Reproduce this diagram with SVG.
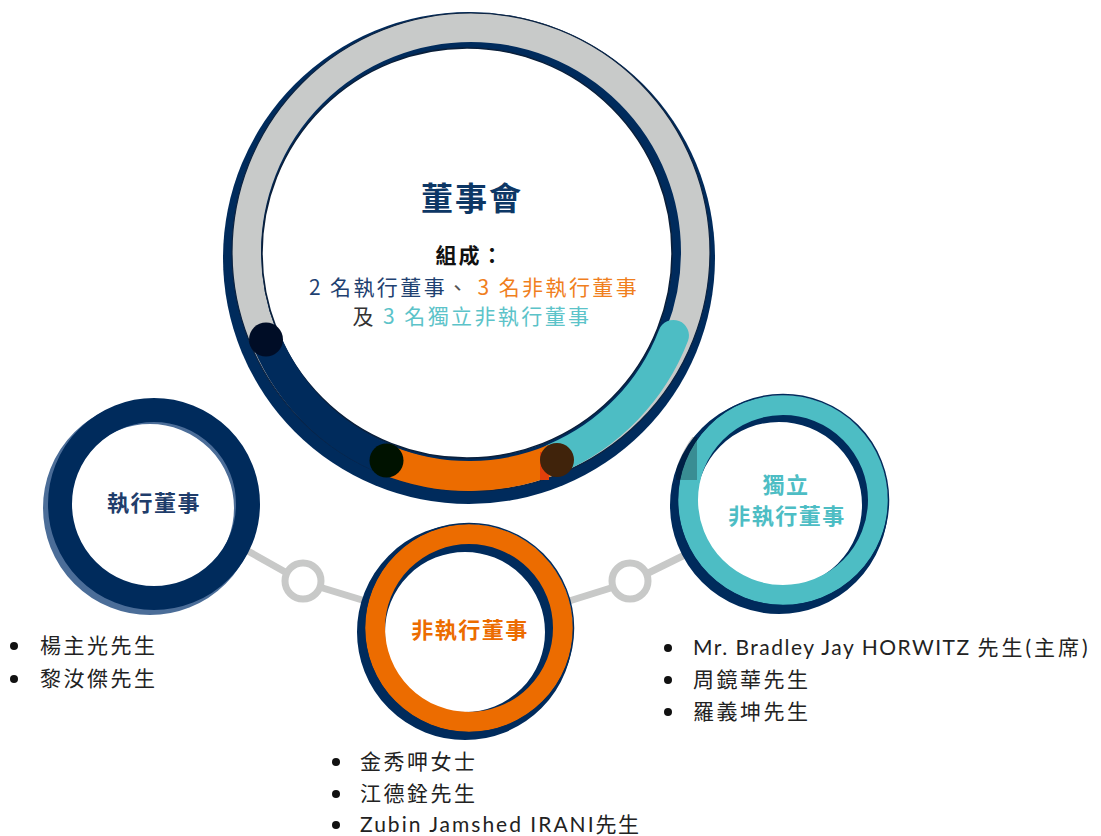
<svg xmlns="http://www.w3.org/2000/svg" width="1101" height="836" viewBox="0 0 1101 836">
<style>
.cjk{font-family:'Noto Sans CJK TC','Noto Sans',sans-serif}
.list{font-family:Lato,'Noto Sans CJK TC',sans-serif;font-size:21px;fill:#222}
.conn{stroke:#c8c9c8;stroke-width:7;fill:none}
.navy{fill:#002b5c}
</style>
<defs>
<clipPath id="indClip"><circle cx="781" cy="502" r="110"/></clipPath>
</defs>
<rect width="1101" height="836" fill="#ffffff"/>
<g id="connectors">
<line class="conn" x1="230" y1="541" x2="303" y2="582"/>
<line class="conn" x1="303" y1="582" x2="385" y2="607"/>
<line class="conn" x1="550" y1="607" x2="630" y2="582"/>
<line class="conn" x1="630" y1="582" x2="705" y2="545"/>
<circle cx="303" cy="581" r="18" stroke="#c8c9c8" stroke-width="7" fill="#ffffff"/>
<circle cx="630" cy="581" r="18" stroke="#c8c9c8" stroke-width="7" fill="#ffffff"/>
</g>
<g id="board">
<circle cx="469" cy="258" r="246" class="navy"/>
<circle cx="471" cy="252" r="224.5" fill="none" stroke="#c8cac9" stroke-width="29"/>
<circle cx="471" cy="252" r="239" fill="none" stroke="#0b2240" stroke-width="1.2"/>
<circle cx="467" cy="253" r="205" fill="#ffffff" stroke="#0a1f3a" stroke-width="1.5"/>
<path d="M 554.57 458.59 A 219 219 0 0 0 673.45 335.48" fill="none" stroke="#4dbdc4" stroke-width="31" stroke-linecap="round"/>
<path d="M 386.96 460.05 A 219 219 0 0 0 554.57 458.59" fill="none" stroke="#ec6c00" stroke-width="30"/>
<path d="M 265.95 339.04 A 219 219 0 0 0 386.96 460.05" fill="none" stroke="#002b5c" stroke-width="30"/>
<rect x="540" y="452" width="9" height="28" fill="#e2400b"/>
<circle cx="266" cy="339.5" r="17" fill="#000d26"/>
<circle cx="386.5" cy="460.5" r="17" fill="#001200"/>
<circle cx="557" cy="460" r="17" fill="#40230b"/>
<text x="472" y="210" text-anchor="middle" class="cjk" font-size="32" font-weight="bold" fill="#0d3765" letter-spacing="2">董事會</text>
<text x="470" y="262.5" text-anchor="middle" class="cjk" font-size="21" font-weight="bold" fill="#111" letter-spacing="2">組成：</text>
<text x="474" y="294.5" text-anchor="middle" class="cjk" font-size="21" letter-spacing="2.4"><tspan fill="#1f4171">2 名執行董事</tspan><tspan fill="#555">、 </tspan><tspan fill="#f07f1e">3 名非執行董事</tspan></text>
<text x="472" y="323.5" text-anchor="middle" class="cjk" font-size="21" letter-spacing="2.4"><tspan fill="#333">及 </tspan><tspan fill="#5cc3c9">3 名獨立非執行董事</tspan></text>
</g>
<g id="exec">
<circle cx="150" cy="508" r="95.5" fill="#ffffff" stroke="#4b6d98" stroke-width="23"/>
<circle cx="154" cy="504" r="94" fill="none" stroke="#002b5c" stroke-width="24"/>
<text x="154" y="511" text-anchor="middle" class="cjk" font-size="22" font-weight="bold" fill="#1f3d6b" letter-spacing="1.5">執行董事</text>
</g>
<g id="nonexec">
<circle cx="465" cy="632" r="94" fill="#ffffff" stroke="#002b5c" stroke-width="28"/>
<circle cx="469" cy="628" r="94" fill="none" stroke="#ec6c00" stroke-width="20"/>
<circle cx="469" cy="628" r="104.5" fill="none" stroke="#002b5c" stroke-width="1.5"/>
<text x="470" y="638" text-anchor="middle" class="cjk" font-size="22" font-weight="bold" fill="#ec6c00" letter-spacing="1.5">非執行董事</text>
</g>
<g id="independent">
<circle cx="779" cy="505" r="96" fill="#ffffff" stroke="#002b5c" stroke-width="26"/>
<circle cx="783" cy="500" r="95" fill="none" stroke="#4dbdc4" stroke-width="20"/>
<circle cx="783" cy="500" r="105.5" fill="none" stroke="#002b5c" stroke-width="1.5"/>
<rect x="676" y="437" width="21" height="43" fill="#000" fill-opacity="0.25" clip-path="url(#indClip)"/>
<text x="786" y="493" text-anchor="middle" class="cjk" font-size="22" font-weight="bold" fill="#4dbdc4" letter-spacing="1.5">獨立</text>
<text x="787" y="524" text-anchor="middle" class="cjk" font-size="22" font-weight="bold" fill="#4dbdc4" letter-spacing="1.5">非執行董事</text>
</g>
<g id="exec-list">
<circle cx="14" cy="646" r="4" fill="#111"/>
<circle cx="14" cy="679" r="4" fill="#111"/>
<text x="40" y="653" class="list" style="letter-spacing:2.5px">楊主光先生</text>
<text x="40" y="686" class="list" style="letter-spacing:2.5px">黎汝傑先生</text>
</g>
<g id="nonexec-list">
<circle cx="336" cy="762" r="4" fill="#111"/>
<circle cx="336" cy="794" r="4" fill="#111"/>
<circle cx="336" cy="825" r="4" fill="#111"/>
<text x="360" y="769" class="list" style="letter-spacing:2.5px">金秀呷女士</text>
<text x="360" y="801" class="list" style="letter-spacing:2.5px">江德銓先生</text>
<text x="360" y="832" class="list" style="letter-spacing:2px">Zubin Jamshed IRANI<tspan style="letter-spacing:1.5px">先生</tspan></text>
</g>
<g id="independent-list">
<circle cx="668" cy="648" r="4" fill="#111"/>
<circle cx="668" cy="680" r="4" fill="#111"/>
<circle cx="668" cy="712" r="4" fill="#111"/>
<text x="693" y="655" class="list" style="letter-spacing:1.5px">Mr. Bradley Jay HORWITZ <tspan style="letter-spacing:3px">先生(主席)</tspan></text>
<text x="693" y="687" class="list" style="letter-spacing:2.5px">周鏡華先生</text>
<text x="693" y="719" class="list" style="letter-spacing:2.5px">羅義坤先生</text>
</g>
</svg>
